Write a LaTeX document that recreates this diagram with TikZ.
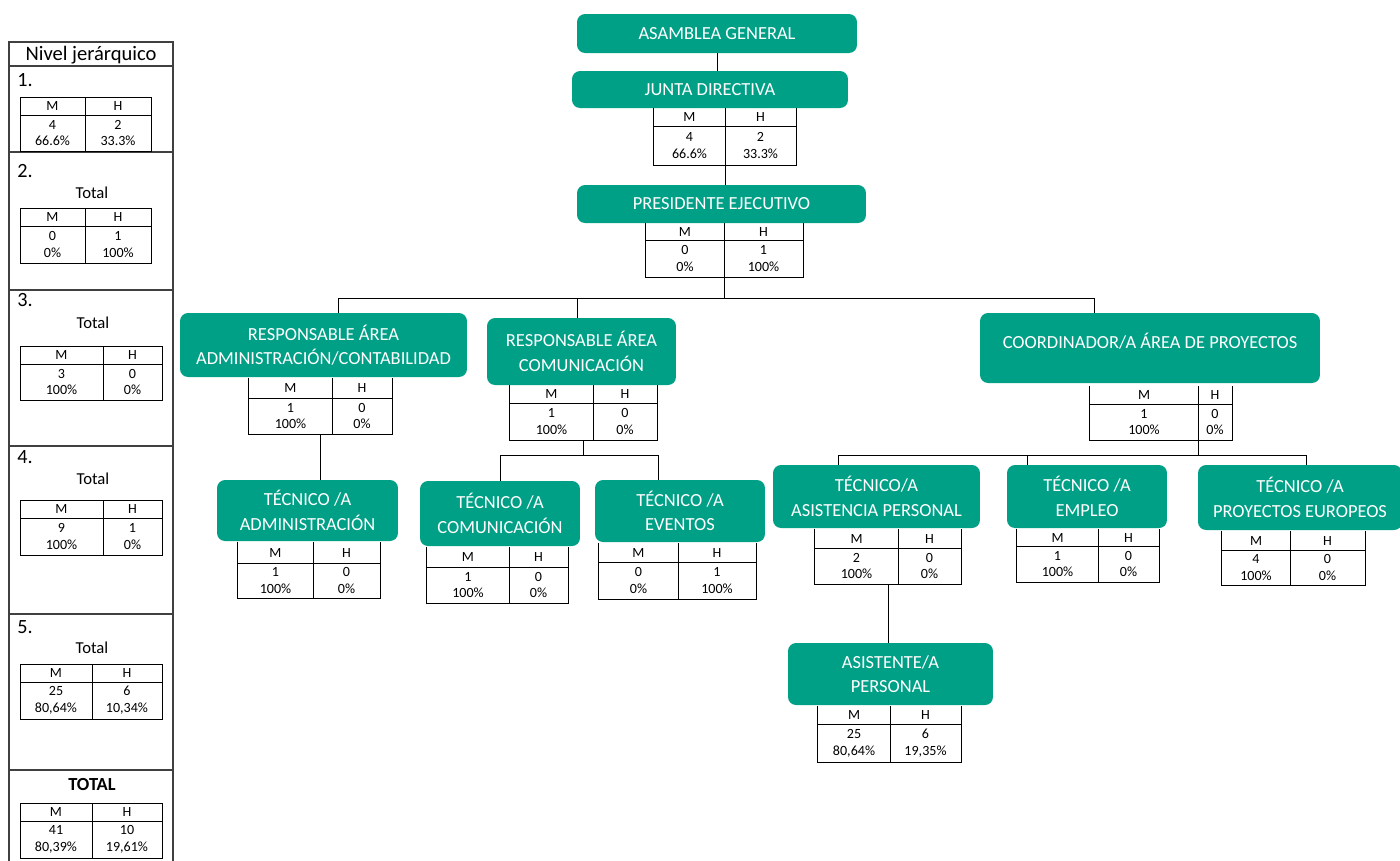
\documentclass[tikz,border=0pt]{standalone}
\usepackage{fontspec}
\setmainfont{Carlito}
\usetikzlibrary{fit}
\definecolor{teal1}{RGB}{0,160,135}
\tikzset{
 gbox/.style={fill=teal1, rounded corners=0.16cm, text=white, align=center, font=\fontsize{10.5}{14}\selectfont, inner sep=0pt},
 gtext/.style={text=white, font=\fontsize{10.5}{14}\selectfont, inner sep=0pt},
 tbl/.style={draw=black, line width=0.5pt, inner sep=0pt},
 tblo/.style={inner sep=0pt},
 tt/.style={font=\fontsize{8}{9.6}\selectfont, align=center, inner sep=0pt},
 conn/.style={draw=black, line width=0.5pt},
 panel/.style={draw=black!75, line width=0.8pt, inner sep=0pt},
 ptxt/.style={font=\fontsize{11.5}{12}\selectfont, inner sep=0pt},
 ttot/.style={font=\fontsize{9.5}{10}\selectfont, inner sep=0pt},
}
\newcommand\mhcells[9]{%
 \draw[conn] (#2,#7) -- (#4,#7);
 \draw[conn] (#6,#3) -- (#6,#5);
 \node[tt] (#1-m) at ({(#2+#6)/2},{(#3+#7)/2}) {M};
 \node[tt] (#1-h) at ({(#6+#4)/2},{(#3+#7)/2}) {H};
 \node[tt] (#1-mv) at ({(#2+#6)/2},{(#7+#5)/2}) {#8};
 \node[tt] (#1-hv) at ({(#6+#4)/2},{(#7+#5)/2}) {#9};
}
% closed table (left panel)
\newcommand\mhtab[9]{%
 \node[tbl, fit={(#2,#3) (#4,#5)}] (#1) {};
 \mhcells{#1}{#2}{#3}{#4}{#5}{#6}{#7}{#8}{#9}
}
% table with open top (under a box)
\newcommand\mhtabo[9]{%
 \node[tblo, fit={(#2,#3) (#4,#5)}] (#1) {};
 \draw[conn] (#1.north west) -- (#1.south west) -- (#1.south east) -- (#1.north east);
 \mhcells{#1}{#2}{#3}{#4}{#5}{#6}{#7}{#8}{#9}
}
\begin{document}
\begin{tikzpicture}[x=0.02cm,y=-0.02cm]
\useasboundingbox (0,0) rectangle (1400,860);
\fill[white] (0,0) rectangle (1400,860);

% ---------- left panel ----------
\node[panel, fit={(9,42) (173,880)}] (panel) {};
\foreach \yy in {66,152,290,446,614,770} \draw[panel] (9,\yy) -- (173,\yy);
\node[font=\fontsize{11.7}{12}\selectfont, inner sep=0pt] (ptitle) at (91,55) {Nivel jerárquico};
\node[ptxt, anchor=west] (p1) at (17,80) {1.};
\node[ptxt, anchor=west] (p2) at (17,171) {2.};
\node[ptxt, anchor=west] (p3) at (17,300) {3.};
\node[ptxt, anchor=west] (p4) at (17,457) {4.};
\node[ptxt, anchor=west] (p5) at (17,627) {5.};
\node[ttot] (tot2) at (92,193) {Total};
\node[ttot] (tot3) at (93,323) {Total};
\node[ttot] (tot4) at (93,479) {Total};
\node[ttot] (tot5) at (92,648) {Total};
\node[font=\bfseries\fontsize{10.5}{12}\selectfont, inner sep=0pt] (totT) at (92,784) {TOTAL};
\mhtab{L1}{20}{97}{151}{151}{85}{115}{4\\66.6\%}{2\\33.3\%}
\mhtab{L2}{20}{208}{151}{263}{85}{226}{0\\0\%}{1\\100\%}
\mhtab{L3}{20}{346}{162}{400}{103}{364}{3\\100\%}{0\\0\%}
\mhtab{L4}{20}{500}{162}{555}{103}{518}{9\\100\%}{1\\0\%}
\mhtab{L5}{20}{664}{162}{719}{92}{682}{25\\80,64\%}{6\\10,34\%}
\mhtab{LT}{20}{803}{162}{858}{92}{821}{41\\80,39\%}{10\\19,61\%}

% ---------- tables ----------
\mhtabo{tJD}{654}{108}{796}{165}{725}{126}{4\\66.6\%}{2\\33.3\%}
\mhtabo{tPE}{646}{223}{803}{277}{724}{240}{0\\0\%}{1\\100\%}
\mhtabo{tRAA}{249}{378}{392}{434}{332}{398}{1\\100\%}{0\\0\%}
\mhtabo{tRC}{510}{385}{657}{440}{593}{403}{1\\100\%}{0\\0\%}
\mhtabo{tCO}{1090}{386}{1232}{440}{1198}{404}{1\\100\%}{0\\0\%}
\mhtabo{tTAA}{238}{542}{380}{598}{313}{563}{1\\100\%}{0\\0\%}
\mhtabo{tTC}{427}{547}{568}{603}{509}{567}{1\\100\%}{0\\0\%}
\mhtabo{tTE}{599}{543}{756}{599}{678}{562}{0\\0\%}{1\\100\%}
\mhtabo{tTAP}{815}{529}{961}{584}{898}{548}{2\\100\%}{0\\0\%}
\mhtabo{tTEm}{1017}{529}{1159}{582}{1098}{546}{1\\100\%}{0\\0\%}
\mhtabo{tTPE}{1222}{531}{1365}{585}{1290}{550}{4\\100\%}{0\\0\%}
\mhtabo{tAS}{818}{706}{961}{762}{890}{724}{25\\80,64\%}{6\\19,35\%}

% ---------- boxes ----------
\node[gbox, minimum width=5.6cm, minimum height=0.78cm] (ag) at (717,33.5) {ASAMBLEA GENERAL};
\node[gbox, minimum width=5.52cm, minimum height=0.74cm] (jd) at (710,89.5) {JUNTA DIRECTIVA};
\node[gbox, minimum width=5.78cm, minimum height=0.76cm] (pe) at (721.5,204) {PRESIDENTE EJECUTIVO};
\node[gbox, minimum width=5.74cm, minimum height=1.28cm] (raa) at (323.5,345) {RESPONSABLE ÁREA\\ADMINISTRACIÓN/CONTABILIDAD};
\node[gbox, minimum width=3.78cm, minimum height=1.34cm] (rc) at (581.5,351.5) {RESPONSABLE ÁREA\\COMUNICACIÓN};
\node[gbox, minimum width=6.8cm, minimum height=1.4cm] (co) at (1150,348) {};
\node[gtext] (cot) at (1150,341) {COORDINADOR/A ÁREA DE PROYECTOS};
\node[gbox, minimum width=3.62cm, minimum height=1.22cm] (taa) at (307.5,510.5) {TÉCNICO /A\\ADMINISTRACIÓN};
\node[gbox, minimum width=3.2cm, minimum height=1.3cm] (tc) at (500,513.5) {TÉCNICO /A\\COMUNICACIÓN};
\node[gbox, minimum width=3.4cm, minimum height=1.24cm] (te) at (680,511) {TÉCNICO /A\\EVENTOS};
\node[gbox, minimum width=4.14cm, minimum height=1.26cm] (tap) at (876.5,496.5) {TÉCNICO/A\\ASISTENCIA PERSONAL};
\node[gbox, minimum width=3.2cm, minimum height=1.26cm] (tem) at (1087,496.5) {TÉCNICO /A\\EMPLEO};
\node[gbox, minimum width=4.08cm, minimum height=1.3cm] (tpe) at (1300,497.5) {TÉCNICO /A\\PROYECTOS EUROPEOS};
\node[gbox, minimum width=4.1cm, minimum height=1.24cm] (as) at (890.5,674) {ASISTENTE/A\\PERSONAL};

% ---------- connectors ----------
\draw[conn] (ag.south) -- (ag.south |- jd.north);
\draw[conn] (tJD.south) -- (tJD.south |- pe.north);

\coordinate (b1L) at (338,298);
\coordinate (b1M) at (577,298);
\coordinate (b1R) at (1094,298);
\draw[conn] (tPE.south) -- (tPE.south |- b1L);
\draw[conn] (b1L) -- (b1R);
\draw[conn] (b1L) -- (b1L |- raa.north);
\draw[conn] (b1M) -- (b1M |- rc.north);
\draw[conn] (b1R) -- (b1R |- co.north);

\draw[conn] (tRAA.south) -- (tRAA.south |- taa.north);

\coordinate (b2L) at (500,455);
\coordinate (b2R) at (658,455);
\draw[conn] (tRC.south) -- (tRC.south |- b2L);
\draw[conn] (b2L) -- (b2R);
\draw[conn] (b2L) -- (b2L |- tc.north);
\draw[conn] (b2R) -- (b2R |- te.north);

\coordinate (b3L) at (838,455);
\coordinate (b3M) at (1027,455);
\coordinate (b3R) at (1306,455);
\coordinate (coS) at (1198,440);
\draw[conn] (coS) -- (coS |- b3L);
\draw[conn] (b3L) -- (b3R);
\draw[conn] (b3L) -- (b3L |- tap.north);
\draw[conn] (b3M) -- (b3M |- tem.north);
\draw[conn] (b3R) -- (b3R |- tpe.north);

\draw[conn] (tTAP.south) -- (tTAP.south |- as.north);
\end{tikzpicture}
\end{document}
